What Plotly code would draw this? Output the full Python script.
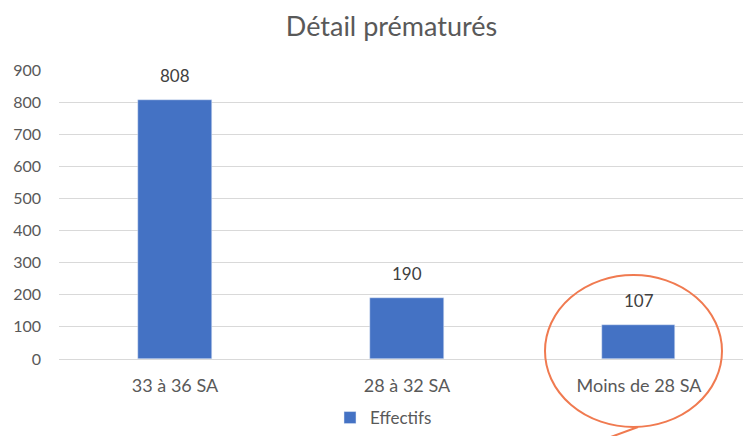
import plotly.graph_objects as go

categories = ["33 à 36 SA", "28 à 32 SA", "Moins de 28 SA"]
effectifs = [808, 190, 107]
y_ticks = [0, 100, 200, 300, 400, 500, 600, 700, 800, 900]

FONT = "Lato, 'Open Sans', sans-serif"
OFF = 8  # page body margin
W, H = 751 - OFF, 436 - OFF
ML, MT = 59 - OFF, 70 - OFF
MR = 0
MB = H - (359 - OFF)
PW = W - ML - MR
PH = H - MT - MB

def px_x(p):
    return (p - OFF - ML) / PW

def px_y(p):
    return (H - MB - (p - OFF)) / PH

fig = go.Figure()
fig.add_trace(go.Bar(
    x=categories, y=effectifs, name="Effectifs",
    marker=dict(color="#4472C4"), width=0.315,
))

for c, v in zip(categories, effectifs):
    fig.add_annotation(x=c, y=v, text=str(v), showarrow=False,
                       yanchor="middle", yshift=24,
                       font=dict(family=FONT, size=17, color="#404040"))

# highlight ellipse with tail
fig.add_shape(type="circle", xref="paper", yref="paper",
              x0=px_x(545), x1=px_x(722), y0=px_y(427), y1=px_y(275),
              line=dict(color="#F07A50", width=2), layer="above")
fig.add_shape(type="line", xref="paper", yref="paper",
              x0=px_x(638), y0=px_y(427), x1=px_x(608), y1=px_y(438),
              line=dict(color="#F07A50", width=2), layer="above")

fig.update_layout(
    width=W, height=H,
    margin=dict(l=ML, r=MR, t=MT, b=MB, autoexpand=False),
    paper_bgcolor="white", plot_bgcolor="white",
    title=dict(text="Détail prématurés", x=(391.5 - OFF) / W, xref="container", xanchor="center",
               y=1 - (27 - OFF) / H, yref="container", yanchor="middle", automargin=False,
               font=dict(family=FONT, size=27, color="#595959")),
    showlegend=True,
    legend=dict(orientation="h", x=(330 - OFF) / W, xref="container", xanchor="left",
                y=-6 / H, yref="container", yanchor="bottom", itemwidth=30,
                bgcolor="rgba(0,0,0,0)",
                font=dict(family=FONT, size=17, color="#595959")),
    xaxis=dict(range=[-0.5, 2.483], showgrid=False, showline=False, zeroline=False,
               ticks="", ticklabelstandoff=14, automargin=False,
               tickfont=dict(family=FONT, size=18, color="#595959")),
    yaxis=dict(range=[0, 900], tickvals=y_ticks, showgrid=True, gridcolor="#D9D9D9",
               gridwidth=1, zeroline=True, zerolinecolor="#D9D9D9", zerolinewidth=1,
               showline=False, ticks="", ticklabelstandoff=17, automargin=False,
               tickfont=dict(family=FONT, size=16, color="#595959")),
    bargap=0,
)

fig.write_html("out.html")
